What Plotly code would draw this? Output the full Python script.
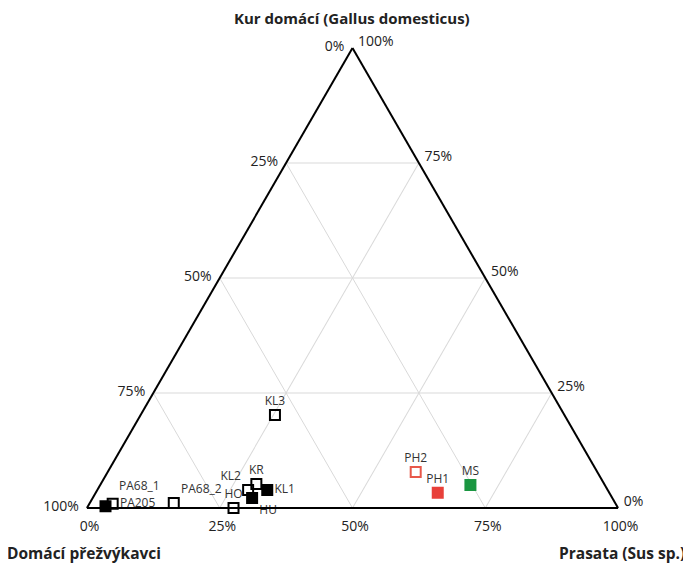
import plotly.graph_objects as go

# Data (fractions, %): Kur domácí (top), Domácí přežvýkavci (bottom-left), Prasata (bottom-right)
labels = ["PA68_1", "PA205", "PA68_2", "HO", "KL2", "KR", "HU", "KL1", "KL3", "PH2", "PH1", "MS"]
kur = [0.4, 0.9, 1.1, 0.0, 3.9, 5.2, 2.2, 3.9, 20.2, 7.8, 3.3, 5.0]
prasata = [3.3, 4.4, 15.8, 27.6, 28.4, 29.3, 30.0, 32.0, 25.3, 58.0, 64.4, 69.7]
prezvykavci = [round(100 - k - p, 1) for k, p in zip(kur, prasata)]

symbols = ["square", "square-open", "square-open", "square-open", "square-open", "square-open",
           "square", "square", "square-open", "square-open", "square", "square"]
colors = ["#000000", "#000000", "#000000", "#000000", "#000000", "#000000",
          "#000000", "#000000", "#000000", "#e8584a", "#e8403a", "#1a9641"]
textpos = ["top right", "middle right", "top right", "top center", "top left", "top center",
           "bottom right", "middle right", "top center", "top center", "top center", "top center"]

tickvals = [0, 25, 50, 75, 100]
ticktext = ["100%", "75%", "50%", "25%", "0%"]

FONT = "Open Sans"
LABEL_FONT = dict(family=FONT, size=12, color="#333333")

# labels that need a little extra clearance from their point
raised = {"PA68_1"}
main_text = ["" if lab in raised else lab for lab in labels]

fig = go.Figure()
fig.add_trace(go.Scatterternary(
    a=kur, b=prezvykavci, c=prasata,
    mode="markers+text",
    text=main_text,
    textposition=textpos,
    textfont=LABEL_FONT,
    marker=dict(symbol=symbols, color=colors, size=10,
                line=dict(width=2, color=colors)),
    cliponaxis=False,
    showlegend=False,
))

idx = [i for i, lab in enumerate(labels) if lab in raised]
fig.add_trace(go.Scatterternary(
    a=[kur[i] for i in idx], b=[prezvykavci[i] for i in idx], c=[prasata[i] for i in idx],
    mode="markers+text",
    text=[labels[i] for i in idx],
    textposition=[textpos[i] for i in idx],
    textfont=LABEL_FONT,
    marker=dict(size=20, opacity=0),
    cliponaxis=False,
    showlegend=False,
    hoverinfo="skip",
))

axis_common = dict(
    tickvals=tickvals, ticktext=ticktext, tickmode="array",
    linecolor="#000000", linewidth=2,
    gridcolor="#d9d9d9", gridwidth=1,
    tickfont=dict(family=FONT, size=14, color="#222222"),
    ticks="outside", ticklen=5, tickcolor="rgba(0,0,0,0)",
    showgrid=True, min=0, title=dict(text=""),
)

fig.update_layout(
    width=691, height=569,
    margin=dict(l=0, r=0, t=0, b=0),
    paper_bgcolor="white",
    ternary=dict(
        sum=100,
        bgcolor="white",
        domain=dict(x=[78/691, 611/691], y=[69/569, 529/569]),
        aaxis=dict(**axis_common),
        baxis=dict(**axis_common),
        caxis=dict(**axis_common),
    ),
    annotations=[
        dict(text="<b>Kur domácí (Gallus domesticus)</b>", x=344/691, y=1 - 10/569,
             xref="paper", yref="paper", showarrow=False, yanchor="middle",
             font=dict(family=FONT, size=15, color="#222222")),
        dict(text="<b>Domácí přežvýkavci</b>", x=-3/691, y=1 - 545/569,
             xref="paper", yref="paper", showarrow=False, xanchor="left", yanchor="middle",
             font=dict(family=FONT, size=15.5, color="#222222")),
        dict(text="<b>Prasata (Sus sp.)</b>", x=679/691, y=1 - 545/569,
             xref="paper", yref="paper", showarrow=False, xanchor="right", yanchor="middle",
             font=dict(family=FONT, size=15.5, color="#222222")),
    ],
)

fig.write_html("out.html")
